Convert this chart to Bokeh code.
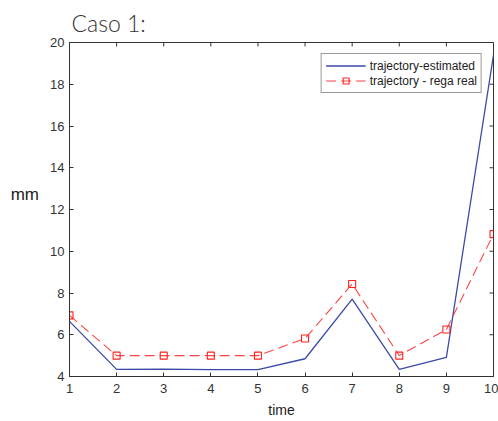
import math
from bokeh.plotting import figure
from bokeh.models import FixedTicker, Range1d, Legend, LegendItem
from bokeh.embed import file_html
from bokeh.resources import INLINE

time = [1, 2, 3, 4, 5, 6, 7, 8, 9, 10]
estimated = [6.64, 4.34, 4.35, 4.33, 4.33, 4.85, 7.71, 4.34, 4.92, 19.4]
real = [6.93, 5.0, 5.0, 5.0, 5.0, 5.82, 8.43, 5.0, 6.25, 10.82]
x_ticks = [1, 2, 3, 4, 5, 6, 7, 8, 9, 10]
y_ticks = [4, 6, 8, 10, 12, 14, 16, 18, 20]

AX = "#333333"
FONT = "Liberation Sans"

p = figure(width=498, height=421, output_backend="svg", toolbar_location=None,
           x_range=Range1d(1, 10), y_range=Range1d(4, 20),
           min_border_left=69, min_border_right=5, min_border_top=41, min_border_bottom=45,
           title="Caso 1:")
p.title.text_font = "'Lato Light', Lato"
p.title.text_font_size = "23px"
p.title.text_font_style = "normal"
p.title.text_color = "#333333"
p.title.offset = 2
p.title.standoff = 12
p.grid.visible = False
p.outline_line_color = AX
p.outline_line_width = 1
p.background_fill_color = "white"
p.border_fill_color = "white"

for ax in (p.xaxis[0], p.yaxis[0]):
    ax.axis_line_color = AX
    ax.major_tick_line_color = AX
    ax.major_tick_in = 4
    ax.major_tick_out = 0
    ax.minor_tick_line_color = None
    ax.major_label_text_font = FONT
    ax.major_label_text_font_size = "13px"
    ax.major_label_text_color = AX
    ax.axis_label_text_font = FONT
    ax.axis_label_text_font_style = "normal"
    ax.axis_label_text_color = "#222222"

p.xaxis.ticker = FixedTicker(ticks=x_ticks)
p.yaxis.ticker = FixedTicker(ticks=y_ticks)
p.xaxis.axis_label = "time"
p.xaxis.axis_label_text_font_size = "14px"
p.xaxis.major_label_standoff = 7
p.xaxis.axis_label_standoff = 6
p.yaxis.major_label_standoff = 5
p.yaxis.axis_label = "mm\n"
p.yaxis.axis_label_orientation = "horizontal"
p.yaxis.axis_label_text_font_size = "17px"
p.yaxis.axis_label_text_line_height = 1.6
p.yaxis.axis_label_standoff = 8

# mirrored inward ticks on top and right edges (clipped to the frame)
p.scatter(x_ticks, [y_ticks[-1]] * len(x_ticks), marker="dash", angle=math.pi / 2,
          size=8, line_color=AX, line_width=1)
p.scatter([x_ticks[-1]] * len(y_ticks), y_ticks, marker="dash",
          size=8, line_color=AX, line_width=1)

l1 = p.line(time, estimated, line_color="#3a4aa6", line_width=1.3)
l2 = p.line(time, real, line_color="#ff3030", line_width=1.1, line_dash="10 5", line_alpha=0.9)
s2 = p.scatter(time, real, marker="square", size=7, fill_color=None,
               line_color="#ff2020", line_width=1.1)

legend = Legend(items=[LegendItem(label="trajectory-estimated", renderers=[l1]),
                       LegendItem(label="trajectory - rega real", renderers=[l2, s2])],
                location="top_right")
legend.label_text_font = FONT
legend.label_text_font_size = "12px"
legend.label_text_color = "#222222"
legend.border_line_color = "#333333"
legend.border_line_width = 1
legend.padding = 4
legend.spacing = 0
legend.margin = 11
legend.glyph_width = 40
legend.glyph_height = 15
legend.label_height = 15
legend.label_standoff = 4
legend.background_fill_alpha = 1
p.add_layout(legend)

open("out.html", "w").write(file_html(p, INLINE))
